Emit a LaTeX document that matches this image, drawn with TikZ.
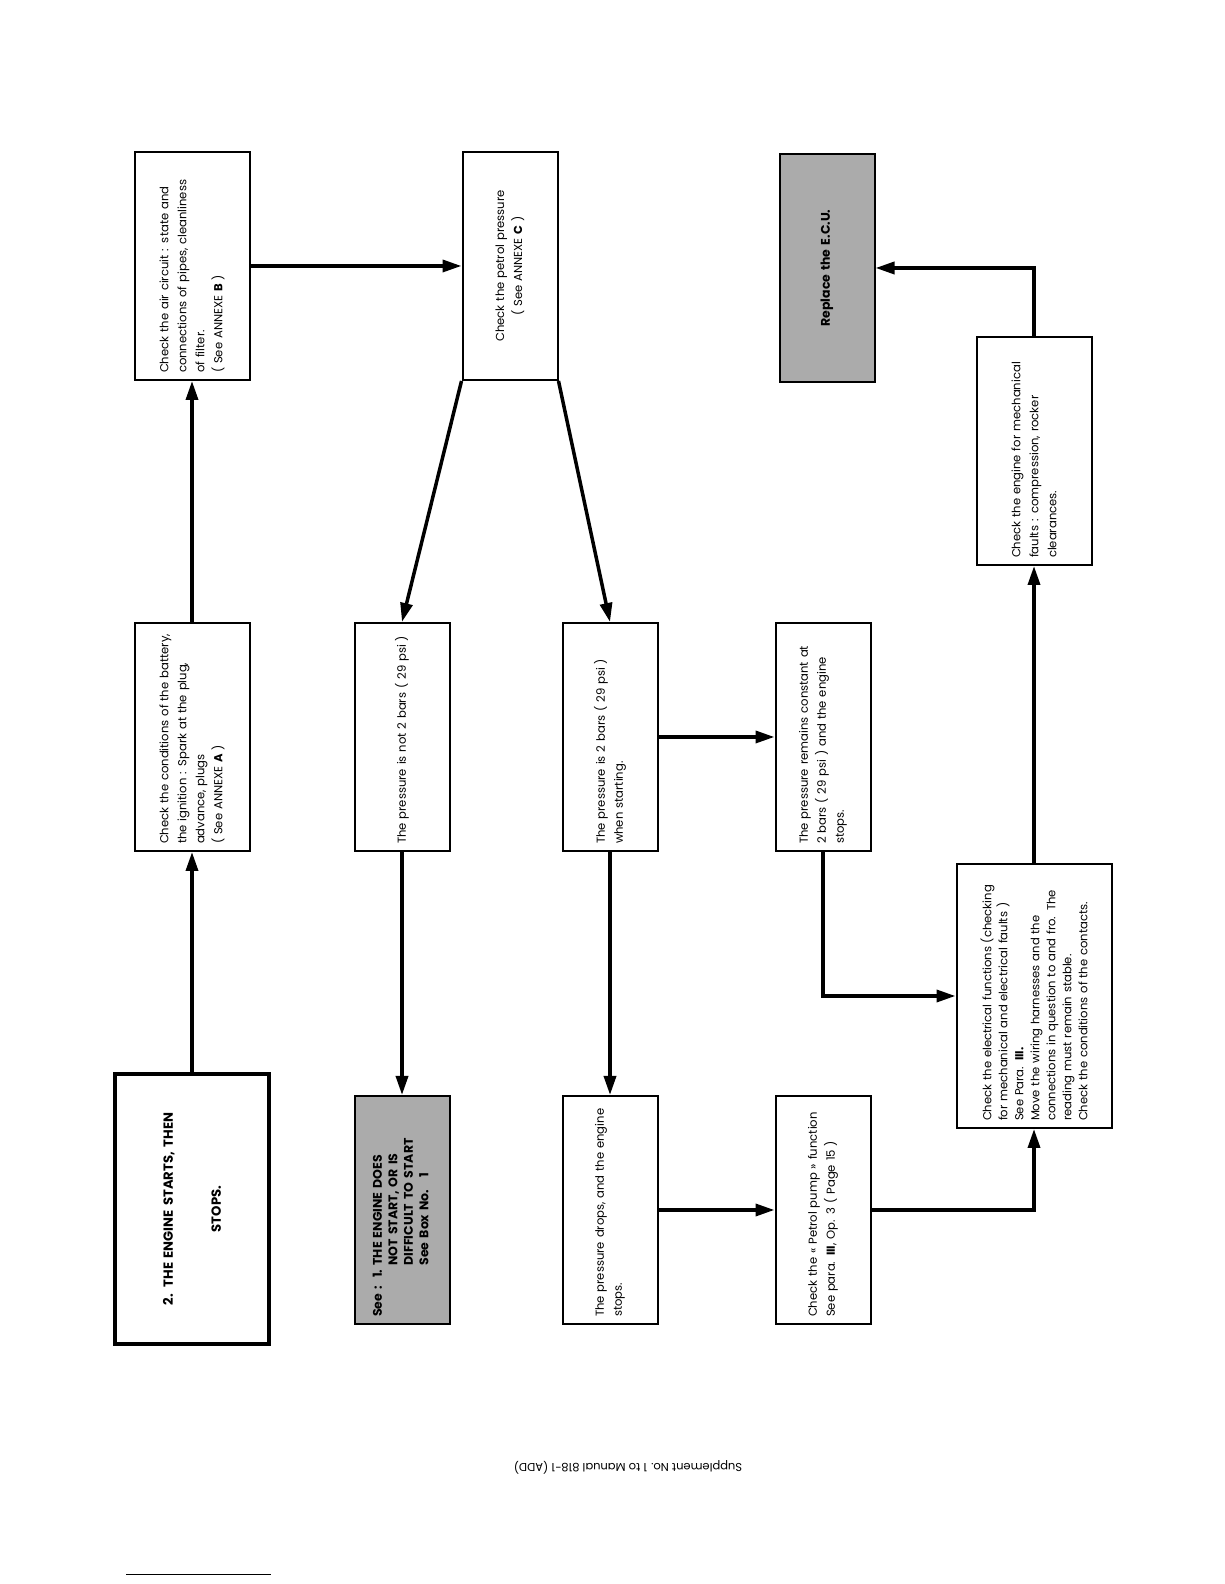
\documentclass[tikz,border=0pt]{standalone}
\usepackage{fontspec}
\setmainfont{Poppins}
\usetikzlibrary{arrows.meta,positioning}

\tikzset{
	stepbox/.style={rectangle, draw, line width=2pt, minimum width=228pt, minimum height=95pt,
		inner xsep=7pt, text width=214pt, align=left, font=\fontsize{11.6}{18}\selectfont},
	tallbox/.style={stepbox, minimum height=115pt},
	shadebox/.style={stepbox, fill=black!33},
	flow/.style={draw, line width=3.5pt, -{Triangle[length=19pt,width=12pt]}}
}

\begin{document}
\begin{tikzpicture}[x=1pt,y=1pt]
	\useasboundingbox (0,0) rectangle (1224,1584);

	% the chart is set sideways on the page
	\begin{scope}[shift={(1224,0)},rotate=90,transform shape]
		\node[stepbox, line width=4.5pt, minimum width=270pt, minimum height=154pt, text width=254pt,
			align=center, font=\bfseries\fontsize{13.2}{48}\selectfont] (start) at (375,1032)
			{2. THE ENGINE STARTS, THEN\\ STOPS.};
		\node[tallbox] (battery) at (847,1032)
			{Check the conditions of the battery,\\ the ignition : Spark at the plug,\\ advance, plugs\\ ( See ANNEXE \textbf{A} )};
		\node[tallbox] (aircircuit) at (1318,1032)
			{Check the air circuit : state and\\ connections of pipes, cleanliness\\ of filter.\\ ( See ANNEXE \textbf{B} )};
		\node[stepbox, align=center] (petrol) at (1318,714)
			{Check the petrol pressure\\ ( See ANNEXE \textbf{C} )};
		\node[stepbox] (notbars) at (847,822)
			{The pressure is not 2 bars ( 29 psi )};
		\node[shadebox, font=\bfseries\fontsize{12.5}{15.5}\selectfont] (nostart) at (374,822)
			{\begin{tabular}{@{}l@{}l@{}}
				See :~~1.~ & THE ENGINE DOES\\
				& NOT START, OR IS\\
				& DIFFICULT TO START\\
				& See Box No.~~~1
			\end{tabular}};
		\node[stepbox] (bars) at (847,614)
			{The pressure is 2 bars ( 29 psi )\\ when starting.};
		\node[stepbox] (drops) at (374,614)
			{The pressure drops, and the engine\\ stops.};
		\node[stepbox] (constant) at (847,401)
			{The pressure remains constant at\\ 2 bars ( 29 psi ) and the engine\\ stops.};
		\node[stepbox] (pump) at (374,401)
			{Check the « Petrol pump » function\\ See para. \textbf{III}, Op. 3 ( Page 15 )};
		\node[shadebox, align=center, font=\bfseries\fontsize{12.5}{18}\selectfont] (ecu) at (1316,397)
			{Replace the E.C.U.};
		\node[stepbox, minimum width=264pt, minimum height=155pt, text width=250pt,
			font=\fontsize{11.6}{16}\selectfont] (electrical) at (588,190)
			{Check the electrical functions (checking\\ for mechanical and electrical faults )\\ See Para. \textbf{III.}\\
			Move the wiring harnesses and the\\ connections in question to and fro. The\\ reading must remain stable.\\
			Check the conditions of the contacts.};
		\node[tallbox] (mechanical) at (1133,190)
			{Check the engine for mechanical\\ faults : compression, rocker\\ clearances.};

		\path[flow] (start) -- (battery);
		\path[flow] (battery) -- (aircircuit);
		\path[flow] (aircircuit) -- (petrol);
		\path[flow] (petrol.north west) -- (notbars.east);
		\path[flow] (petrol.south west) -- (bars.east);
		\path[flow] (notbars) -- (nostart);
		\path[flow] (bars) -- (drops);
		\path[flow] (bars) -- (constant);
		\path[flow] (drops) -- (pump);
		\path[flow] (constant.west) -| (electrical.north);
		\path[flow] (pump.south) |- (electrical.west);
		\path[flow] (electrical) -- (mechanical);
		\path[flow] (mechanical.east) -| (ecu.south);
	\end{scope}

	% page footer, printed upside down
	\node[rotate=180, font=\fontsize{11.5}{13}\selectfont] (footer) at (628,117)
		{Supplement No. 1 to Manual 818-1 (ADD)};
	\coordinate (rulestart) at (126,10);
	\coordinate (ruleend) at (271,10);
	\draw[line width=0.8pt] (rulestart) -- (ruleend);
\end{tikzpicture}
\end{document}
